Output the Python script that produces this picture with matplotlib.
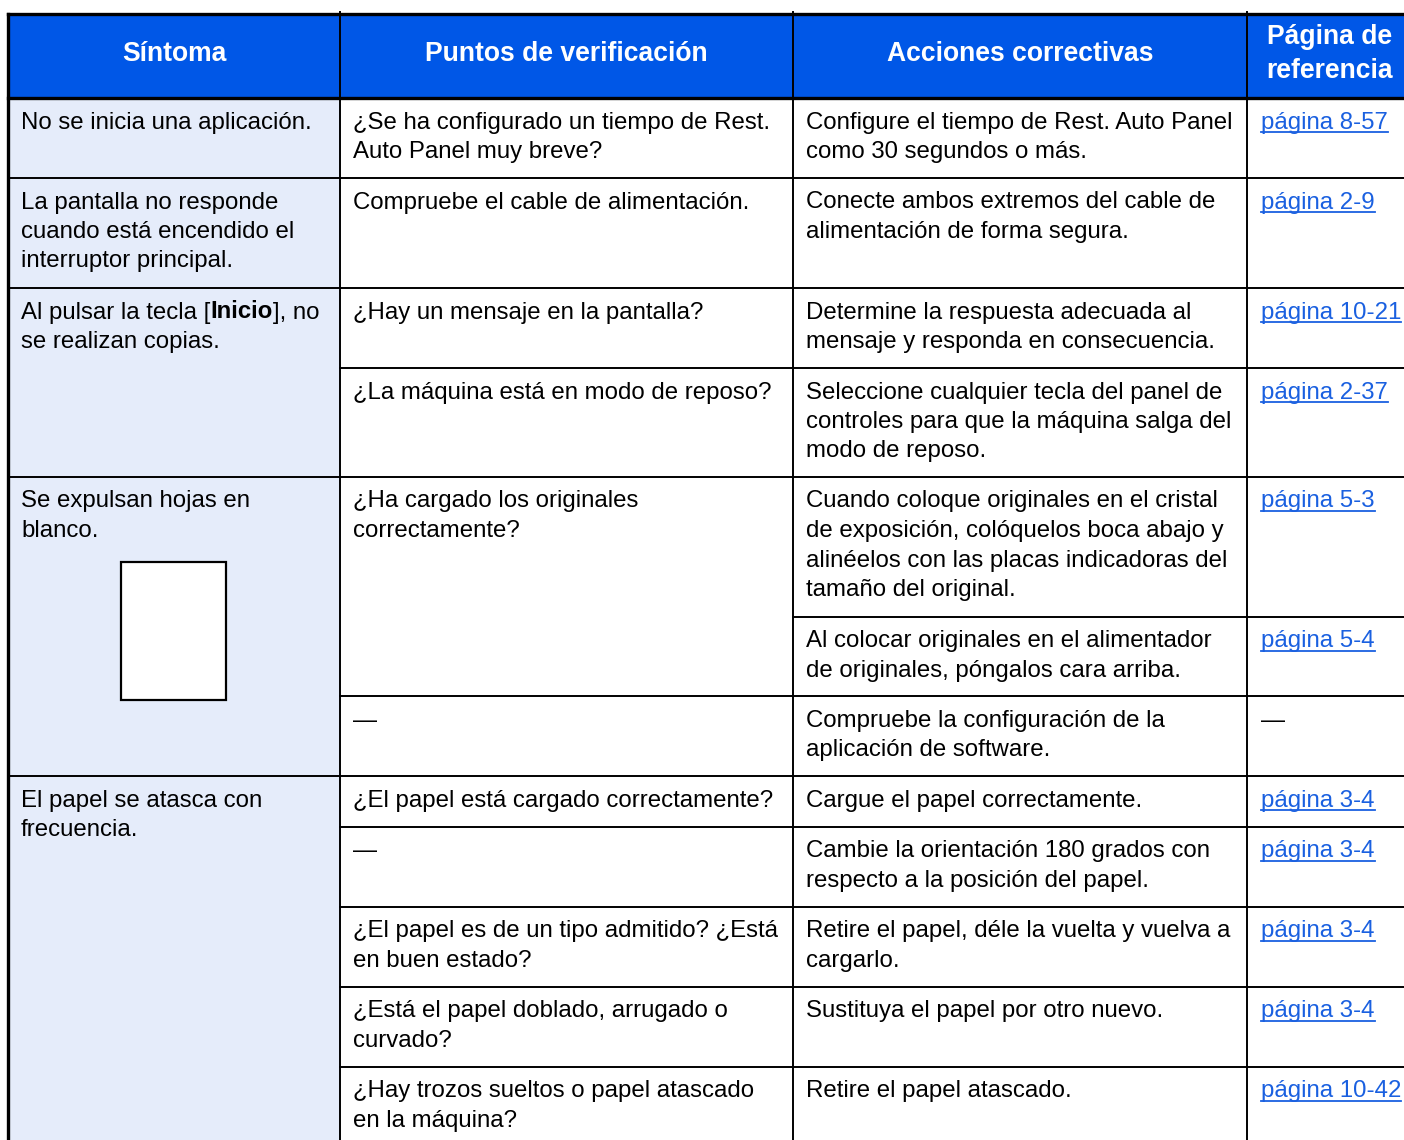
import matplotlib.pyplot as plt
from matplotlib.patches import Rectangle

# table content
headers = ["Síntoma", "Puntos de verificación", "Acciones correctivas", "Página de\nreferencia"]

# (text, first sub-row, last sub-row)
sintomas = [
    ("No se inicia una aplicación.", 0, 1),
    ("La pantalla no responde\ncuando está encendido el\ninterruptor principal.", 1, 2),
    ("Al pulsar la tecla [Inicio], no\nse realizan copias.", 2, 4),
    ("Se expulsan hojas en\nblanco.", 4, 7),
    ("El papel se atasca con\nfrecuencia.", 7, 12),
]

puntos = [
    ("¿Se ha configurado un tiempo de Rest.\nAuto Panel muy breve?", 0, 1),
    ("Compruebe el cable de alimentación.", 1, 2),
    ("¿Hay un mensaje en la pantalla?", 2, 3),
    ("¿La máquina está en modo de reposo?", 3, 4),
    ("¿Ha cargado los originales\ncorrectamente?", 4, 6),
    ("—", 6, 7),
    ("¿El papel está cargado correctamente?", 7, 8),
    ("—", 8, 9),
    ("¿El papel es de un tipo admitido? ¿Está\nen buen estado?", 9, 10),
    ("¿Está el papel doblado, arrugado o\ncurvado?", 10, 11),
    ("¿Hay trozos sueltos o papel atascado\nen la máquina?", 11, 12),
]

acciones = [
    "Configure el tiempo de Rest. Auto Panel\ncomo 30 segundos o más.",
    "Conecte ambos extremos del cable de\nalimentación de forma segura.",
    "Determine la respuesta adecuada al\nmensaje y responda en consecuencia.",
    "Seleccione cualquier tecla del panel de\ncontroles para que la máquina salga del\nmodo de reposo.",
    "Cuando coloque originales en el cristal\nde exposición, colóquelos boca abajo y\nalinéelos con las placas indicadoras del\ntamaño del original.",
    "Al colocar originales en el alimentador\nde originales, póngalos cara arriba.",
    "Compruebe la configuración de la\naplicación de software.",
    "Cargue el papel correctamente.",
    "Cambie la orientación 180 grados con\nrespecto a la posición del papel.",
    "Retire el papel, déle la vuelta y vuelva a\ncargarlo.",
    "Sustituya el papel por otro nuevo.",
    "Retire el papel atascado.",
]

paginas = ["página 8-57", "página 2-9", "página 10-21", "página 2-37", "página 5-3",
           "página 5-4", "—", "página 3-4", "página 3-4", "página 3-4", "página 3-4",
           "página 10-42"]

# layout (pixels)
col_x = [8, 340, 793, 1247, 1413]
top = 14
head_bot = 98
row_y = [98, 178, 288, 368, 477, 617, 696, 776, 827, 907, 987, 1067, 1160]

BLUE = "#0057e7"
LIGHT = "#e5ecfa"
LINK = "#1a60e0"
FS = 17.3
HFS = 19.1
PAD = 13
LINE = 29.5
BASE = 30.5

plt.rcParams['font.family'] = ['Liberation Sans', 'DejaVu Sans']

fig = plt.figure(figsize=(14.04, 11.40), dpi=100)
ax = fig.add_axes([0, 0, 1, 1])
ax.set_xlim(0, 1404)
ax.set_ylim(1140, 0)
ax.axis('off')
renderer = fig.canvas.get_renderer()


def width(t):
    return t.get_window_extent(renderer).width


def put(x, y, s, **kw):
    lines = s.split("\n")
    for i, ln in enumerate(lines):
        ax.text(x, y + i * LINE, ln, fontsize=FS, va='baseline', ha='left', **kw)


# header
ax.add_patch(Rectangle((col_x[0], top), col_x[-1] - col_x[0], head_bot - top,
                       facecolor=BLUE, edgecolor='none'))
for i, h in enumerate(headers):
    cx = (col_x[i] + col_x[i + 1]) / 2
    ax.text(cx, (top + head_bot) / 2 - 2, h, color='white', fontsize=HFS, fontweight='bold',
            ha='center', va='center', linespacing=1.35)

# first column background
ax.add_patch(Rectangle((col_x[0], head_bot), col_x[1] - col_x[0], row_y[-1] - head_bot,
                       facecolor=LIGHT, edgecolor='none'))

# symptoms
for s, a, b in sintomas:
    y0 = row_y[a]
    x = col_x[0] + PAD
    if "[Inicio]" in s:
        first, rest = s.split("\n")
        pre, post = first.split("Inicio")
        t1 = ax.text(x, y0 + BASE, pre, fontsize=FS, va='baseline')
        x2 = x + width(t1)
        t2 = ax.text(x2, y0 + BASE, "Inicio", fontsize=FS, va='baseline', fontweight='bold')
        ax.text(x2 + width(t2), y0 + BASE, post, fontsize=FS, va='baseline')
        put(x, y0 + BASE + LINE, rest)
    else:
        put(x, y0 + BASE, s)
    ax.plot([col_x[0], col_x[1]], [row_y[b], row_y[b]], color='black', lw=1.4)

# blank page picture
ax.add_patch(Rectangle((121, 562), 105, 138, facecolor='white', edgecolor='black', lw=1.6))

for s, a, b in puntos:
    put(col_x[1] + PAD, row_y[a] + BASE, s)
    ax.plot([col_x[1], col_x[2]], [row_y[b], row_y[b]], color='black', lw=1.4)

for i, s in enumerate(acciones):
    put(col_x[2] + PAD, row_y[i] + BASE, s)
    ax.plot([col_x[2], col_x[4]], [row_y[i + 1], row_y[i + 1]], color='black', lw=1.4)

for i, s in enumerate(paginas):
    x = col_x[3] + PAD + 1
    y = row_y[i] + BASE
    if s == "—":
        ax.text(x, y, s, fontsize=FS, va='baseline')
        continue
    t = ax.text(x, y, s, fontsize=FS, va='baseline', color=LINK)
    ax.plot([x, x + width(t)], [y + 3, y + 3], color=LINK, lw=1.3)

# vertical lines
for x in col_x[1:4]:
    ax.plot([x, x], [top - 2, row_y[-1]], color='black', lw=1.4)
ax.plot([col_x[0], col_x[0]], [top, row_y[-1]], color='black', lw=2.4)
ax.plot([col_x[0], col_x[-1]], [top, top], color='black', lw=2.4)
ax.plot([col_x[0], col_x[-1]], [head_bot, head_bot], color='black', lw=2.4)

fig.savefig("out.png", dpi=100)
